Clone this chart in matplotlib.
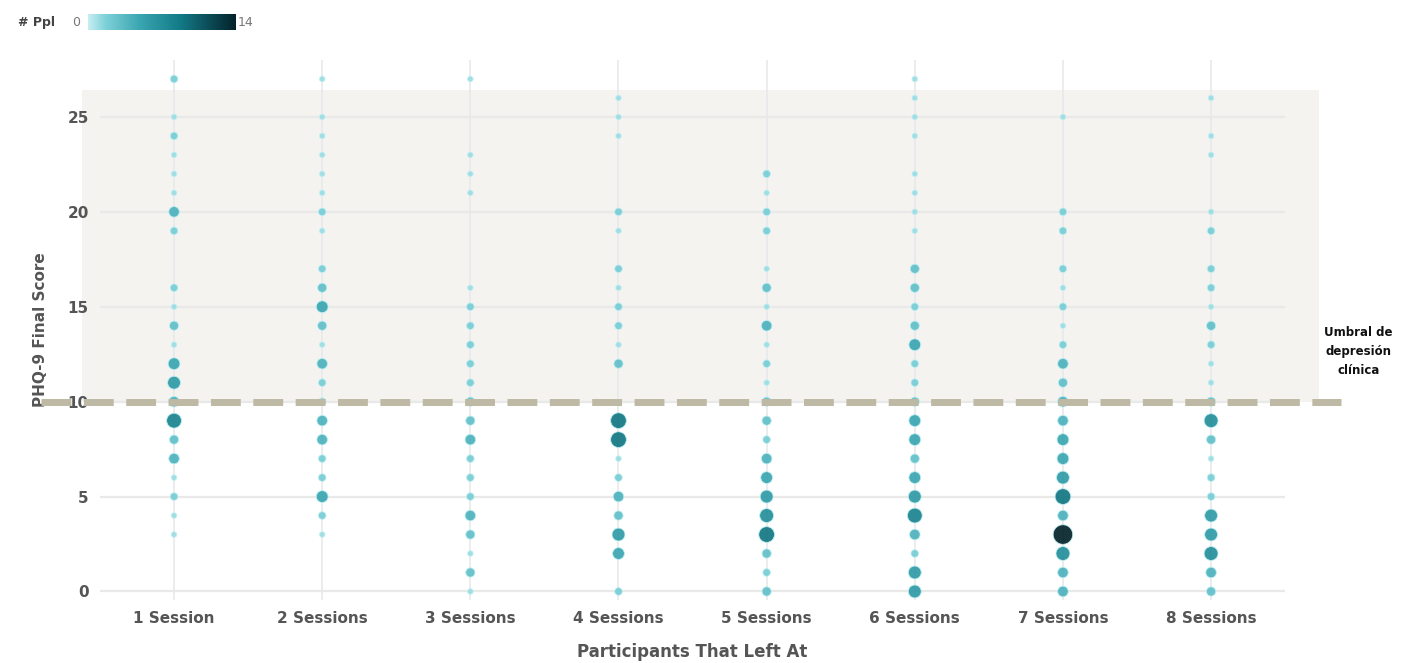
import numpy as np
import matplotlib
matplotlib.use("Agg")
import matplotlib.pyplot as plt
from matplotlib.colors import LinearSegmentedColormap
from matplotlib.patches import Rectangle
from matplotlib.lines import Line2D

sessions = ['1 Session', '2 Sessions', '3 Sessions', '4 Sessions',
            '5 Sessions', '6 Sessions', '7 Sessions', '8 Sessions']

# PHQ-9 final score and number of people at each score, one list per column
scores_1 = [27, 25, 24, 23, 22, 21, 20, 19, 16, 15, 14, 13, 12, 11, 10, 9, 8, 7, 6, 5, 4, 3]
counts_1 = [2, 1, 2, 1, 1, 1, 4, 2, 2, 1, 3, 1, 5, 6, 4, 8, 3, 4, 1, 2, 1, 1]
scores_2 = [27, 25, 24, 23, 22, 21, 20, 19, 17, 16, 15, 14, 13, 12, 11, 10, 9, 8, 7, 6, 5, 4, 3]
counts_2 = [1, 1, 1, 1, 1, 1, 2, 1, 2, 3, 5, 3, 1, 4, 2, 2, 4, 4, 2, 2, 5, 2, 1]
scores_3 = [27, 23, 22, 21, 16, 15, 14, 13, 12, 11, 10, 9, 8, 7, 6, 5, 4, 3, 2, 1, 0]
counts_3 = [1, 1, 1, 1, 1, 2, 2, 2, 2, 2, 3, 3, 4, 2, 2, 2, 4, 3, 1, 3, 1]
scores_4 = [26, 25, 24, 20, 19, 17, 16, 15, 14, 13, 12, 9, 8, 7, 6, 5, 4, 3, 2, 0]
counts_4 = [1, 1, 1, 2, 1, 2, 1, 2, 2, 1, 3, 9, 9, 1, 2, 4, 3, 6, 5, 2]
scores_5 = [22, 21, 20, 19, 17, 16, 15, 14, 13, 12, 11, 10, 9, 8, 7, 6, 5, 4, 3, 2, 1, 0]
counts_5 = [2, 1, 2, 2, 1, 3, 1, 4, 1, 2, 1, 3, 3, 2, 4, 5, 6, 7, 9, 3, 2, 3]
scores_6 = [27, 26, 25, 24, 22, 21, 20, 19, 17, 16, 15, 14, 13, 12, 11, 10, 9, 8, 7, 6, 5, 4, 3, 2, 1, 0]
counts_6 = [1, 1, 1, 1, 1, 1, 1, 1, 3, 3, 2, 3, 5, 2, 2, 3, 5, 5, 3, 5, 6, 8, 4, 2, 6, 6]
scores_7 = [25, 20, 19, 17, 16, 15, 14, 13, 12, 11, 10, 9, 8, 7, 6, 5, 4, 3, 2, 1, 0]
counts_7 = [1, 2, 2, 2, 1, 2, 1, 2, 4, 3, 4, 4, 5, 5, 6, 9, 4, 14, 7, 4, 4]
scores_8 = [26, 24, 23, 20, 19, 17, 16, 15, 14, 13, 12, 11, 10, 9, 8, 7, 6, 5, 4, 3, 2, 1, 0]
counts_8 = [1, 1, 1, 1, 2, 2, 2, 1, 3, 2, 1, 1, 3, 7, 3, 1, 2, 2, 6, 6, 7, 4, 3]

all_scores = [scores_1, scores_2, scores_3, scores_4, scores_5, scores_6, scores_7, scores_8]
all_counts = [counts_1, counts_2, counts_3, counts_4, counts_5, counts_6, counts_7, counts_8]

threshold = 10
cmax = 14

cmap = LinearSegmentedColormap.from_list(
    'ppl', [(0, '#c6eef2'), (0.12, '#7dd0d8'), (0.35, '#3aa6b2'),
            (0.62, '#137b88'), (1.0, '#04222a')])

fig = plt.figure(figsize=(14.16, 6.63), dpi=100)
ax = fig.add_axes([0.0706, 0.095, 0.837, 0.8145])

# light shaded band above the threshold
ax.add_patch(Rectangle((-0.62, threshold), 8.35, 16.4, facecolor='#f4f3f0',
                       edgecolor='none', zorder=0, clip_on=False))

for y in range(0, 30, 5):
    ax.axhline(y, color='#e9e9e7', lw=1.6, zorder=1)
for i in range(len(sessions)):
    ax.axvline(i, color='#e6e9ea', lw=1.2, zorder=1)

for i, (sc, ct) in enumerate(zip(all_scores, all_counts)):
    ct = np.array(ct)
    ax.scatter(np.full(len(sc), i), sc, s=2 + 14 * ct, c=ct, cmap=cmap,
               vmin=0, vmax=cmax, edgecolors='#bff0f4', linewidths=0.6,
               alpha=0.92, zorder=3)

ax.add_line(Line2D([-0.9, 7.88], [threshold, threshold], color='#bdb9a4', lw=5,
                   dashes=(4.3, 1.8), zorder=4, clip_on=False))

ax.text(1.062, 0.46, 'Umbral de\ndepresión\nclínica', transform=ax.transAxes,
        ha='center', va='center', fontsize=8.5, fontweight='bold',
        color='#111111', linespacing=1.6)

ax.set_xlim(-0.5, 7.5)
ax.set_ylim(-0.45, 28)
ax.set_xticks(range(len(sessions)))
ax.set_xticklabels(sessions)
ax.set_yticks([0, 5, 10, 15, 20, 25])
for s in ax.spines.values():
    s.set_visible(False)
ax.tick_params(length=0, labelsize=11, colors='#555555', pad=8)
for lbl in ax.get_xticklabels() + ax.get_yticklabels():
    lbl.set_fontweight('bold')
ax.set_xlabel('Participants That Left At', fontsize=12, fontweight='bold',
              color='#555555', labelpad=12)
ax.set_ylabel('PHQ-9 Final Score', fontsize=11, fontweight='bold',
              color='#555555', labelpad=14)

# colour legend
fig.text(0.013, 0.966, '# Ppl', fontsize=9, fontweight='bold', color='#444444',
         va='center')
fig.text(0.051, 0.966, '0', fontsize=9, color='#777777', va='center')
cax = fig.add_axes([0.062, 0.954, 0.104, 0.025])
cax.imshow(np.linspace(0, 1, 256)[None, :], aspect='auto', cmap=cmap)
cax.set_xticks([])
cax.set_yticks([])
for s in cax.spines.values():
    s.set_visible(False)
fig.text(0.168, 0.966, '14', fontsize=9, color='#777777', va='center')

fig.savefig('out.png', dpi=100, facecolor='white')
